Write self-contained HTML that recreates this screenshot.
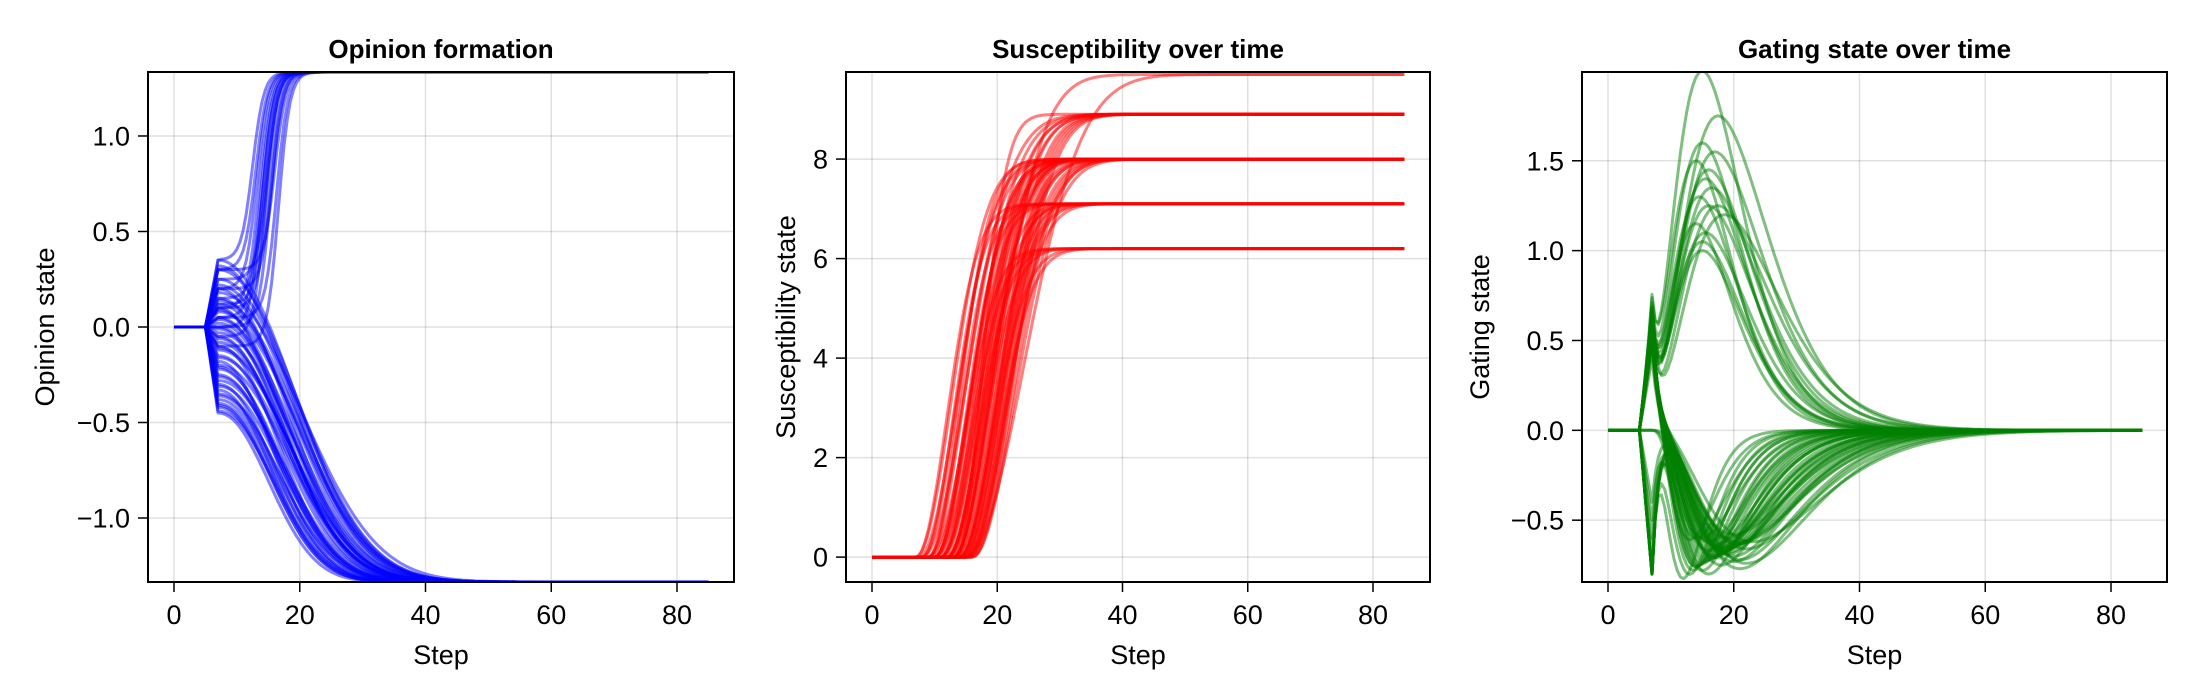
<!DOCTYPE html>
<html><head><meta charset="utf-8"><title>Opinion dynamics</title>
<style>
html,body{margin:0;padding:0;background:#fff;}
svg{display:block;font-family:"Liberation Sans",Arial,sans-serif;}
</style></head>
<body>
<svg id="fig" width="2200" height="700" viewBox="0 0 2200 700" xmlns="http://www.w3.org/2000/svg"></svg>
<script>
// ---------- data ----------
const steps = Array.from({length: 171}, (_, i) => i/2);
// Opinion: agents that go up (value at step 7, midpoint of rise)
const opUpStart = [0.35,0.30,0.20,0.10,0.05,0.00,0.15,-0.05,0.25,0.10,0.00,0.20,0.30,0.05,-0.10,0.12];
const opUpMid   = [12.5,13.0,13.2,13.5,13.8,14.0,14.2,14.5,14.8,15.0,15.3,15.6,16.0,16.3,16.6,14.6];
// Opinion: agents that go down (value at step 7, decay time)
const opDnStart = [-0.45,-0.42,-0.40,-0.38,-0.35,-0.33,-0.30,-0.28,-0.25,-0.22,-0.20,-0.18,-0.15,-0.12,-0.10,-0.08,-0.05,-0.03,0.00,0.02,0.05,0.08,0.10,0.12,0.15,0.18,0.20,0.25,0.30,0.35,-0.44,-0.36,-0.26,-0.16,-0.06,0.04,0.14,-0.41,-0.31,-0.21,-0.11,-0.01,0.09,0.22,0.32];
const opDnTau   = [11,11.5,12,12.5,13,11.5,12,14,13,13.5,15,12,14,15.5,13,15,14,16,14.5,15.5,15,17,14,16.5,16,18,15,17,17,16.5,12,13,13.5,15,14.5,16,17,11.5,13.5,13,15.5,14.5,15,16.5,16];
// Susceptibility: plateau, start step, rise time
const suPlat = [9.7,9.7,8.9,8.9,8.9,8.9,8.9,8.9,8.9,8.9,8.9,8.9,8.9,8.9,8.0,8.0,8.0,8.0,8.0,8.0,8.0,8.0,8.0,8.0,8.0,8.0,8.0,8.0,8.0,8.0,8.0,8.0,8.0,8.0,8.0,8.0,8.0,8.0,8.0,8.0,8.0,8.0,7.1,7.1,7.1,7.1,7.1,7.1,7.1,7.1,7.1,7.1,7.1,7.1,6.2,6.2,6.2,6.2,6.2,6.2];
const suStart= [13,15,13.5,9,10,11,12,13,14,14.5,15,15.5,16,8,9,7,8,9,10,10.5,11,11.5,12,12.5,13,13.5,14,14.5,15,15.5,16,12,7.5,9.5,11,12.5,13.5,14.5,15,16,10,13,7,8,9,10,11,12,13,14,14.5,15.5,12,14,10,11,12,13,14,15];
const suTau  = [10,13,5.5,10,10,9.5,9.5,9,9,9,9,9,9,10,7,8,8,8,8,8,8,8,8,8,8,8.5,8.5,8.5,9,9,9,8,8.5,8.5,8.5,8.5,9,9,9.5,9.5,8,8,7,7,7,7,7,7.5,7.5,7.5,8,8,8,8,7,7,7,7,7.5,7.5];
// Gating: spike at step 7, peak amplitude, peak time
const gaSpike = [0.6,0.55,0.6,0.5,0.62,0.58,0.6,0.5,0.55,0.6,0.65,0.5,0.55,0.6,0.6,0.5,
  -0.8,-0.8,0.6,0.55,-0.5,0.6,0.5,-0.8,0.0,0.6,0.45,-0.6,0.6,0.5,0.55,-0.8,0.6,0.0,0.5,0.6,-0.7,0.6,0.4,0.5,0.6,-0.8,0.55,0.6,0.5,0.0,0.6,-0.8,0.5,0.6,0.55,-0.4,0.6,0.5,0.6,0.5,-0.8,0.6,0.55,0.5];
const gaAmp = [2.0,1.75,1.6,1.55,1.5,1.45,1.4,1.35,1.3,1.25,1.2,1.15,1.1,1.05,1.0,1.25,
  -0.82,-0.8,-0.78,-0.76,-0.75,-0.74,-0.73,-0.72,-0.71,-0.7,-0.69,-0.68,-0.67,-0.66,-0.65,-0.64,-0.63,-0.62,-0.61,-0.6,-0.6,-0.62,-0.64,-0.66,-0.68,-0.7,-0.72,-0.74,-0.76,-0.78,-0.8,-0.7,-0.65,-0.6,-0.58,-0.63,-0.67,-0.71,-0.75,-0.69,-0.73,-0.77,-0.66,-0.62];
const gaPeak = [15,17.5,15,17,14,16,15.5,16.5,14.5,16,18.5,14,15.5,15,15,17.5,
  12,13,13.5,14,14.5,15,15.5,16,16.5,17,17.5,18,18.5,19,19.5,20,20.5,21,13,14,15,16,17,18,19,20,21,22,14,15,16,17,18,19,20,21,16,17,18,19,20,21,22,23];

// ---------- series models driven by arrays ----------
function logistic(z){return 1/(1+Math.exp(-z));}
function opUp(v7, tm){return steps.map(t=> t<=5?0 : t<=7? v7*(t-5)/2 : v7 + (1.335-v7)*logistic((t-tm)/0.9));}
function opDn(v7, tau){return steps.map(t=> t<=5?0 : t<=7? v7*(t-5)/2 : -1.335 + (v7+1.335)*Math.exp(-Math.pow((t-7)/tau,2.1)));}
function su(P, t0, tau){return steps.map(t=> t<=t0?0 : P*(1-Math.exp(-Math.pow((t-t0)/tau,2))));}
function ga(e7, A, tp){const k = A>0?3.3:3.0; const t0 = A>0?5:7; return steps.map(t=>{
  let s = t<=5?0 : t<=7? e7*(t-5)/2 : e7*Math.exp(-(t-7)/1.0);
  let g = 0; if(t>t0){const u=(t-t0)/(tp-t0); g = A*Math.pow(u,k)*Math.exp(k*(1-u));}
  return s+g;});}

// ---------- drawing ----------
const NS="http://www.w3.org/2000/svg";
const svg=document.getElementById('fig');
function el(tag, attrs, parent){const e=document.createElementNS(NS,tag);for(const k in attrs)e.setAttribute(k,attrs[k]);(parent||svg).appendChild(e);return e;}
const TOP=72, BOT=582;
const panels=[
 {name:'opinion',left:148,right:734,x0:174,x80:677,ymin:-1.335,ymax:1.335,yticks:[-1,-0.5,0,0.5,1],fmt:v=>v.toFixed(1),title:'Opinion formation',ylabel:'Opinion state',ylx:54,color:'#0000ff'},
 {name:'susceptibility',left:846,right:1430,x0:872,x80:1373,ymin:-0.5,ymax:9.75,yticks:[0,2,4,6,8],fmt:v=>String(v),title:'Susceptibility over time',ylabel:'Susceptibility state',ylx:795,color:'#ff0000'},
 {name:'gating',left:1582,right:2167,x0:1608,x80:2111,ymin:-0.844,ymax:1.994,yticks:[-0.5,0,0.5,1,1.5],fmt:v=>v.toFixed(1),title:'Gating state over time',ylabel:'Gating state',ylx:1489,color:'#008000'}
];
const xticks=[0,20,40,60,80];
function minus(s){return s.replace('-','\u2212');}

panels.forEach((p,pi)=>{
  const g=el('g',{});
  
  
  const sx=v=>p.x0+(v)*(p.x80-p.x0)/80;
  const sy=v=>BOT-(v-p.ymin)*(BOT-TOP)/(p.ymax-p.ymin);
  const cx=(p.left+p.right)/2, cy=(TOP+BOT)/2;
  xticks.forEach(v=>{const l=el('line',{x1:sx(v),x2:sx(v),y1:TOP,y2:BOT,stroke:'rgba(0,0,0,0.12)','stroke-width':1.5},g);
    });
  p.yticks.forEach(v=>{const l=el('line',{x1:p.left,x2:p.right,y1:sy(v),y2:sy(v),stroke:'rgba(0,0,0,0.12)','stroke-width':1.5},g);
    });
  const cp=el('clipPath',{id:'clip'+pi},g);el('rect',{x:p.left,y:TOP,width:p.right-p.left,height:BOT-TOP},cp);
  const lines=el('g',{'clip-path':'url(#clip'+pi+')',fill:'none',stroke:p.color,'stroke-width':3,'stroke-opacity':0.5,'stroke-linejoin':'round'},g);
  
  
  let series=[];
  if(pi===0){opUpStart.forEach((v,i)=>series.push(opUp(v,opUpMid[i])));opDnStart.forEach((v,i)=>series.push(opDn(v,opDnTau[i])));}
  if(pi===1){suPlat.forEach((P,i)=>series.push(su(P,suStart[i],suTau[i])));}
  if(pi===2){gaSpike.forEach((e,i)=>series.push(ga(e,gaAmp[i],gaPeak[i])));}
  series.forEach((s,i)=>{
    const d=s.map((v,j)=>(j?'L':'M')+sx(steps[j]).toFixed(1)+' '+sy(v).toFixed(1)).join('');
    const path=el('path',{d:d},lines);
    
    
  });
  const fr=el('rect',{x:p.left,y:TOP,width:p.right-p.left,height:BOT-TOP,fill:'none',stroke:'#000','stroke-width':2},g);
  
  xticks.forEach(v=>{el('line',{x1:sx(v),x2:sx(v),y1:BOT,y2:BOT+10,stroke:'#000','stroke-width':1.5},g);
    const t=el('text',{x:sx(v),y:624,'text-anchor':'middle','font-size':27},g);t.textContent=String(v);
    });
  p.yticks.forEach(v=>{el('line',{x1:p.left-10,x2:p.left,y1:sy(v),y2:sy(v),stroke:'#000','stroke-width':1.5},g);
    const t=el('text',{x:p.left-18,y:sy(v)+9.5,'text-anchor':'end','font-size':27},g);t.textContent=minus(p.fmt(v));
    });
  const ti=el('text',{x:cx,y:58,'text-anchor':'middle','font-size':26,'font-weight':'bold'},g);ti.textContent=p.title;
  
  const xl=el('text',{x:cx,y:664,'text-anchor':'middle','font-size':27},g);xl.textContent='Step';
  
  const yl=el('text',{x:p.ylx,y:cy,'text-anchor':'middle','font-size':27,transform:'rotate(-90 '+p.ylx+' '+cy+')'},g);yl.textContent=p.ylabel;
  
});
</script>
</body></html>
